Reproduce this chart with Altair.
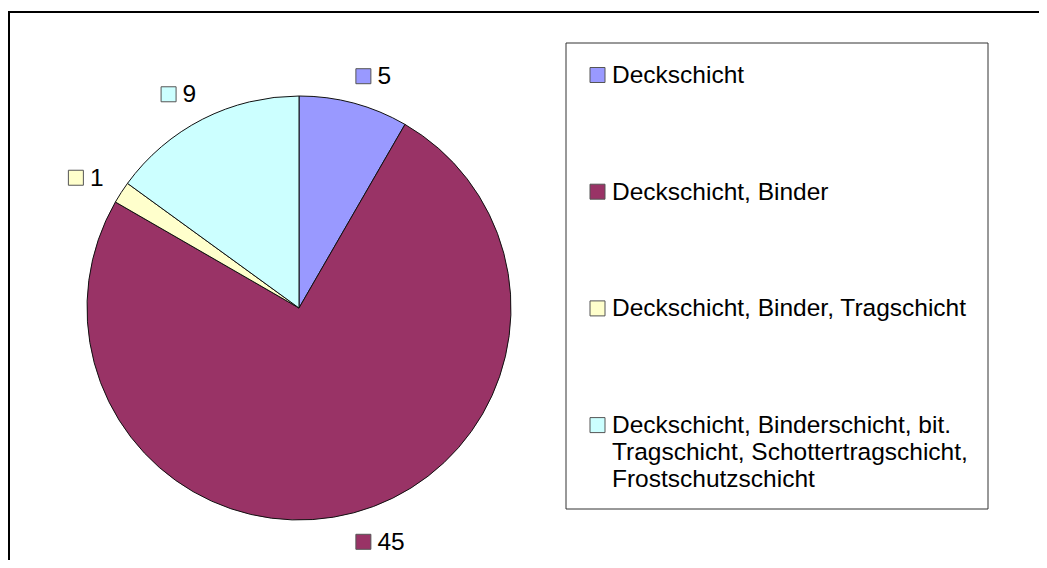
import altair as alt
import pandas as pd
import numpy as np

# ---- data ----
categories = [
    "Deckschicht",
    "Deckschicht, Binder",
    "Deckschicht, Binder, Tragschicht",
    "Deckschicht, Binderschicht, bit. Tragschicht, Schottertragschicht, Frostschutzschicht",
]
legend_labels = [
    "Deckschicht",
    "Deckschicht, Binder",
    "Deckschicht, Binder, Tragschicht",
    "Deckschicht, Binderschicht, bit.\nTragschicht, Schottertragschicht,\nFrostschutzschicht",
]
values = [5, 45, 1, 9]
colors = ["#9999FF", "#993366", "#FFFFCC", "#CCFFFF"]

# ---- layout ----
W, H = 1031, 552
CX, CY, R = 291, 300, 212
LABEL_R = 241
FONT = "Liberation Sans"
FS = 24.5

total = float(sum(values))
cum = np.cumsum([0] + values[:-1])
mid = [(c + v / 2.0) / total * 2 * np.pi for c, v in zip(cum, values)]

ax = [CX + LABEL_R * np.sin(m) for m in mid]
ay = [CY - LABEL_R * np.cos(m) for m in mid]
sq_x = [a + 2 if np.sin(m) >= 0 else a - 21 for a, m in zip(ax, mid)]
sq_y = [b + 1 for b in ay]

df = pd.DataFrame({
    "category": categories,
    "value": values,
    "idx": list(range(len(values))),
    "sq_x": sq_x,
    "sq_y": sq_y,
})

leg_top, leg_step = 67, 116.7
ldf = pd.DataFrame({
    "category": categories,
    "label": legend_labels,
    "ly": [leg_top + i * leg_step for i in range(len(categories))],
})

xs = alt.Scale(domain=[0, W], nice=False, zero=False)
ys = alt.Scale(domain=[0, H], nice=False, zero=False, reverse=True)
cscale = alt.Scale(domain=categories, range=colors)

dummy = pd.DataFrame({"a": [0]})

frame_left = alt.Chart(dummy).mark_rule(color="black", strokeWidth=2).encode(
    x=alt.value(1), y=alt.value(4), y2=alt.value(H)
)
frame_top = alt.Chart(dummy).mark_rule(color="black", strokeWidth=2).encode(
    x=alt.value(0), x2=alt.value(W), y=alt.value(4)
)

pie = alt.Chart(df).mark_arc(outerRadius=R, stroke="#111111", strokeWidth=1).encode(
    theta=alt.Theta("value:Q", stack=True),
    color=alt.Color("category:N", scale=cscale, legend=None),
    order=alt.Order("idx:Q"),
    x=alt.value(CX),
    y=alt.value(CY),
)

lab_sq = alt.Chart(df).mark_square(size=225, stroke="#555555", strokeWidth=1, opacity=1).encode(
    x=alt.X("sq_x:Q", scale=xs, axis=None),
    y=alt.Y("sq_y:Q", scale=ys, axis=None),
    fill=alt.Fill("category:N", scale=cscale, legend=None),
)
lab_txt = alt.Chart(df).mark_text(
    align="left", baseline="alphabetic", dx=14, dy=8, fontSize=FS, font=FONT, color="black"
).encode(
    x=alt.X("sq_x:Q", scale=xs, axis=None),
    y=alt.Y("sq_y:Q", scale=ys, axis=None),
    text="value:Q",
)

leg_box = alt.Chart(dummy).mark_rect(fill="white", stroke="#333333", strokeWidth=1).encode(
    x=alt.value(558), x2=alt.value(980), y=alt.value(35), y2=alt.value(501)
)
leg_sq = alt.Chart(ldf).mark_square(size=225, stroke="#555555", strokeWidth=1, opacity=1).encode(
    x=alt.value(589.5),
    y=alt.Y("ly:Q", scale=ys, axis=None),
    fill=alt.Fill("category:N", scale=cscale, legend=None),
)
leg_txt = alt.Chart(ldf).mark_text(
    align="left", baseline="alphabetic", dy=8, fontSize=FS, font=FONT, color="black",
    lineBreak="\n", lineHeight=27,
).encode(
    x=alt.value(604),
    y=alt.Y("ly:Q", scale=ys, axis=None),
    text="label:N",
)

chart = alt.layer(
    frame_left, frame_top, pie, lab_sq, lab_txt, leg_box, leg_sq, leg_txt
).properties(
    width=W, height=H, padding=0, autosize=alt.AutoSizeParams(type="none"),
    background="white",
).configure_view(stroke=None)

chart.save("out.html", embed_options={"renderer": "svg", "actions": False})
